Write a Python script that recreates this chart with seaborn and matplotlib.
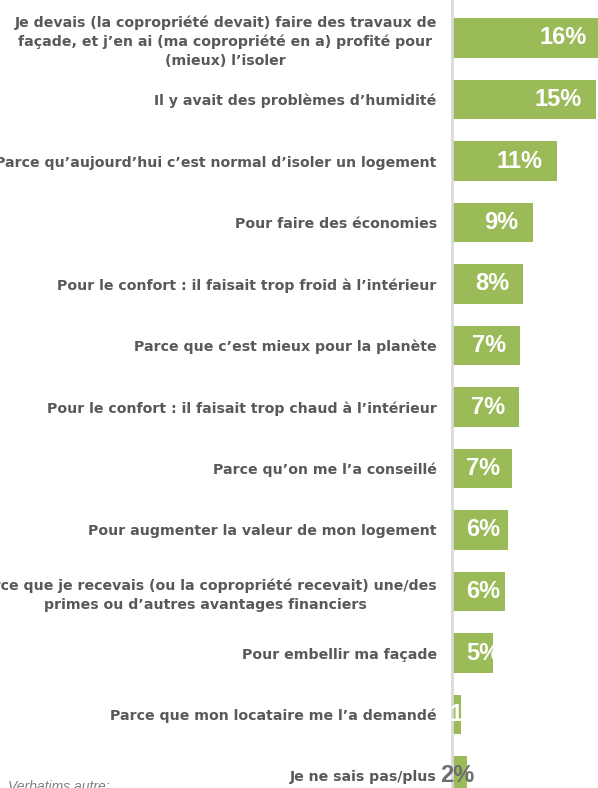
import matplotlib
matplotlib.use("Agg")
import matplotlib.pyplot as plt
import seaborn as sns
import pandas as pd

raisons = [
    "Je devais (la copropriété devait) faire des travaux de\nfaçade, et j’en ai (ma copropriété en a) profité pour\n(mieux) l’isoler",
    "Il y avait des problèmes d’humidité",
    "Parce qu’aujourd’hui c’est normal d’isoler un logement",
    "Pour faire des économies",
    "Pour le confort : il faisait trop froid à l’intérieur",
    "Parce que c’est mieux pour la planète",
    "Pour le confort : il faisait trop chaud à l’intérieur",
    "Parce qu’on me l’a conseillé",
    "Pour augmenter la valeur de mon logement",
    "Parce que je recevais (ou la copropriété recevait) une/des\nprimes ou d’autres avantages financiers",
    "Pour embellir ma façade",
    "Parce que mon locataire me l’a demandé",
    "Je ne sais pas/plus",
]
valeurs = [15.5, 15.0, 10.9, 8.4, 7.4, 7.1, 7.0, 6.2, 5.8, 5.5, 4.3, 0.9, 1.6]
etiquettes = ["16%", "15%", "11%", "9%", "8%", "7%", "7%", "7%", "6%", "6%", "5%", "1%", "2%"]

vert = "#9BBB59"
gris = "#595959"

df = pd.DataFrame({"raison": raisons, "valeur": valeurs})

fig = plt.figure(figsize=(5.98, 7.88), dpi=100)
ax = fig.add_axes([452 / 598, 0, 1 - 452 / 598, 1])
sns.barplot(data=df, x="valeur", y="raison", color=vert, width=0.65,
            saturation=1, ax=ax)

px_unit = 9.6
ax.set_xlim(0, (598 - 452) / px_unit)
ax.set_ylim(12 + 12 / 61.5, -38 / 61.5)

for s in ["top", "right", "bottom"]:
    ax.spines[s].set_visible(False)
ax.spines["left"].set_color("#D9D9D9")
ax.spines["left"].set_linewidth(2)
ax.set_xticks([])
ax.set_xlabel("")
ax.set_ylabel("")
ax.tick_params(axis="y", length=0, pad=11)
for t in ax.get_yticklabels():
    t.set_fontsize(10.2)
    t.set_fontweight("bold")
    t.set_color(gris)
    t.set_multialignment("center")
    t.set_linespacing(1.4)
    t.set_family("DejaVu Sans")

# étiquettes de valeur
for i, (v, lab) in enumerate(zip(valeurs, etiquettes)):
    if v >= 6.5:
        ax.text(v - 1.45, i, lab, ha="right", va="center", color="white",
                fontsize=17, fontweight="bold", family="Liberation Sans")
    elif v >= 3:
        ax.text(1.45, i, lab, ha="left", va="center", color="white",
                fontsize=17, fontweight="bold", family="Liberation Sans")
    elif i == 11:
        ax.text(-0.3, i, lab, ha="left", va="center", color="white",
                fontsize=17, fontweight="bold", family="Liberation Sans",
                clip_on=False)
    else:
        ax.text(0.55, i, lab, ha="center", va="center", color="#6D6D6D",
                fontsize=17, fontweight="bold", family="Liberation Sans",
                clip_on=False)

fig.text(8 / 598, 1 - 791 / 788, "Verbatims autre:", ha="left", va="baseline",
         fontsize=10, style="italic", color="#7F7F7F", family="Liberation Sans")

fig.savefig("out.png", dpi=100)
